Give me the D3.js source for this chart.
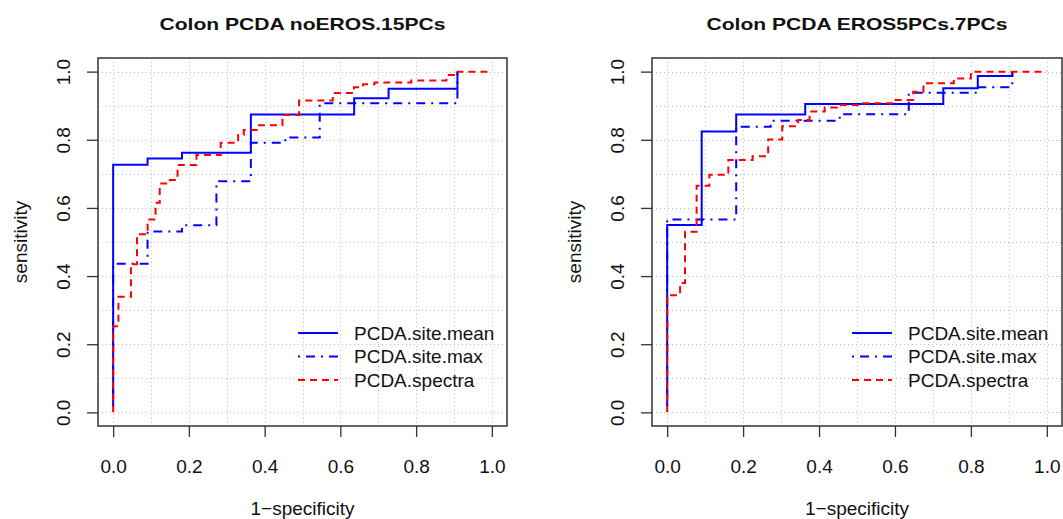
<!DOCTYPE html>
<html>
<head>
<meta charset="utf-8">
<script src="https://cdn.jsdelivr.net/npm/d3@7"></script>
<style>
  body { margin: 0; background: #fff; }
  svg { display: block; }
  text { font-family: "Liberation Sans", Arial, Helvetica, sans-serif; fill: #111; }
</style>
</head>
<body>
<svg id="chart" width="1063" height="519"></svg>
<script>
// ---- data -------------------------------------------------------------
const panelTitles = ["Colon PCDA noEROS.15PCs", "Colon PCDA EROS5PCs.7PCs"];
const seriesNames = ["PCDA.site.mean", "PCDA.site.max", "PCDA.spectra"];
const tickValues = [0, 0.2, 0.4, 0.6, 0.8, 1.0];
const tickLabels = ["0.0", "0.2", "0.4", "0.6", "0.8", "1.0"];
const gridValues = [0, 0.1, 0.2, 0.3, 0.4, 0.5, 0.6, 0.7, 0.8, 0.9, 1.0];
const xTitle = "1\u2212specificity";
const yTitle = "sensitivity";

// ROC steps: each point is (1-specificity, sensitivity) after the rise at that x
// Panel 1: noEROS.15PCs
const noErosMeanFpr = [0, 0, 0.0909, 0.1818, 0.3636, 0.6364, 0.7273, 0.9091];
const noErosMeanTpr = [0.018, 0.727, 0.745, 0.762, 0.874, 0.922, 0.950, 1.0];
const noErosMaxFpr = [0, 0, 0.0909, 0.1818, 0.2727, 0.3636, 0.4545, 0.5455, 0.9091];
const noErosMaxTpr = [0.018, 0.436, 0.531, 0.549, 0.678, 0.791, 0.807, 0.907, 1.0];
const noErosSpectraFpr = [0, 0, 0.014, 0.047, 0.063, 0.091, 0.112, 0.123, 0.150, 0.170, 0.220,
  0.284, 0.330, 0.345, 0.385, 0.447, 0.491, 0.580, 0.636, 0.660, 0.690, 0.787, 0.880, 0.900, 1.0];
const noErosSpectraTpr = [0, 0.253, 0.339, 0.435, 0.523, 0.566, 0.615, 0.672, 0.682, 0.726, 0.755,
  0.791, 0.814, 0.829, 0.843, 0.873, 0.915, 0.937, 0.954, 0.963, 0.968, 0.974, 0.990, 1.0, 1.0];

// Panel 2: EROS5PCs.7PCs
const erosMeanFpr = [0, 0, 0.0909, 0.1818, 0.3636, 0.7273, 0.8182, 0.9091];
const erosMeanTpr = [0.018, 0.550, 0.824, 0.874, 0.905, 0.951, 0.987, 1.0];
const erosMaxFpr = [0, 0, 0.1818, 0.2727, 0.4545, 0.6364, 0.8182, 0.9091];
const erosMaxTpr = [0.018, 0.566, 0.838, 0.856, 0.875, 0.938, 0.954, 1.0];
const erosSpectraFpr = [0, 0, 0.034, 0.047, 0.0775, 0.111, 0.161, 0.225, 0.266, 0.303, 0.345,
  0.375, 0.415, 0.447, 0.505, 0.596, 0.648, 0.675, 0.755, 0.800, 1.0];
const erosSpectraTpr = [0, 0.344, 0.380, 0.530, 0.665, 0.697, 0.741, 0.752, 0.801, 0.840, 0.858,
  0.883, 0.895, 0.902, 0.907, 0.917, 0.941, 0.966, 0.980, 1.0, 1.0];

// ---- styling ----------------------------------------------------------
const seriesStyle = [
  { color: "#0000ff", dash: null },
  { color: "#0000ff", dash: "2,6,9,6" },
  { color: "#ff0000", dash: "7,5" }
];

const panels = [
  { title: panelTitles[0], left: 98, right: 507, titleLen: 286,
    series: [[noErosMeanFpr, noErosMeanTpr], [noErosMaxFpr, noErosMaxTpr], [noErosSpectraFpr, noErosSpectraTpr]] },
  { title: panelTitles[1], left: 652, right: 1062, titleLen: 301,
    series: [[erosMeanFpr, erosMeanTpr], [erosMaxFpr, erosMaxTpr], [erosSpectraFpr, erosSpectraTpr]] }
];
const plotTop = 58, plotBottom = 426;

const svg = d3.select("#chart");

panels.forEach(p => {
  const x = d3.scaleLinear().domain([-0.04, 1.04]).range([p.left, p.right]);
  const y = d3.scaleLinear().domain([-0.04, 1.04]).range([plotBottom, plotTop]);
  const g = svg.append("g");
  const cx = (p.left + p.right) / 2;

  // dotted grid
  const grid = g.append("g").attr("stroke", "#bdbdbd").attr("stroke-width", 1)
    .attr("stroke-dasharray", "1,3");
  grid.selectAll("line.v").data(gridValues).join("line")
    .attr("x1", d => Math.round(x(d)) + 0.5).attr("x2", d => Math.round(x(d)) + 0.5)
    .attr("y1", plotTop).attr("y2", plotBottom);
  grid.selectAll("line.h").data(gridValues).join("line")
    .attr("y1", d => Math.round(y(d)) + 0.5).attr("y2", d => Math.round(y(d)) + 0.5)
    .attr("x1", p.left).attr("x2", p.right);

  // ROC curves
  const line = d3.line().x(d => x(d[0])).y(d => y(d[1])).curve(d3.curveStepAfter);
  p.series.forEach((s, i) => {
    const pts = s[0].map((v, k) => [v, s[1][k]]);
    g.append("path").datum(pts)
      .attr("d", line)
      .attr("fill", "none")
      .attr("stroke", seriesStyle[i].color)
      .attr("stroke-width", 2)
      .attr("stroke-dasharray", seriesStyle[i].dash);
  });

  // axes
  const xAxis = d3.axisBottom(x).tickValues(tickValues).tickFormat((d, i) => tickLabels[i])
    .tickSize(11).tickSizeOuter(0);
  const gx = g.append("g").attr("transform", `translate(0,${plotBottom})`).call(xAxis);
  gx.select(".domain").remove();
  gx.selectAll(".tick line").attr("stroke", "#333").attr("stroke-width", 1.3);
  gx.selectAll(".tick text").attr("font-size", 19).attr("fill", "#111")
    .attr("dy", null).attr("y", 40).attr("dominant-baseline", "central");

  const yAxis = d3.axisLeft(y).tickValues(tickValues).tickFormat((d, i) => tickLabels[i])
    .tickSize(11).tickSizeOuter(0);
  const gy = g.append("g").attr("transform", `translate(${p.left},0)`).call(yAxis);
  gy.select(".domain").remove();
  gy.selectAll(".tick line").attr("stroke", "#333").attr("stroke-width", 1.3);
  gy.selectAll(".tick text").attr("font-size", 19).attr("fill", "#111")
    .attr("x", null).attr("dy", null)
    .attr("text-anchor", "middle").attr("dominant-baseline", "central")
    .attr("transform", "translate(-35,0) rotate(-90)");

  // frame
  g.append("rect").attr("x", p.left).attr("y", plotTop)
    .attr("width", p.right - p.left).attr("height", plotBottom - plotTop)
    .attr("fill", "none").attr("stroke", "#333").attr("stroke-width", 1.5);

  // titles
  g.append("text").attr("x", cx).attr("y", 30).attr("text-anchor", "middle")
    .attr("font-size", 17).attr("font-weight", "bold")
    .attr("textLength", p.titleLen).attr("lengthAdjust", "spacingAndGlyphs")
    .text(p.title);
  g.append("text").attr("x", cx).attr("y", 508).attr("text-anchor", "middle")
    .attr("dominant-baseline", "central").attr("font-size", 19).text(xTitle);
  g.append("text").attr("transform", `translate(${p.left - 78},${(plotTop + plotBottom) / 2}) rotate(-90)`)
    .attr("text-anchor", "middle").attr("dominant-baseline", "central")
    .attr("font-size", 19).text(yTitle);

  // legend
  const lg = g.append("g").attr("transform", `translate(${p.left + 200},333)`);
  seriesNames.forEach((name, i) => {
    const row = lg.append("g").attr("transform", `translate(0,${i * 23.5})`);
    row.append("line").attr("x1", 0).attr("x2", 40).attr("y1", 0).attr("y2", 0)
      .attr("stroke", seriesStyle[i].color).attr("stroke-width", 2)
      .attr("stroke-dasharray", seriesStyle[i].dash);
    row.append("text").attr("x", 56).attr("y", 0).attr("dominant-baseline", "central")
      .attr("font-size", 19).text(name);
  });
});
</script>
</body>
</html>
